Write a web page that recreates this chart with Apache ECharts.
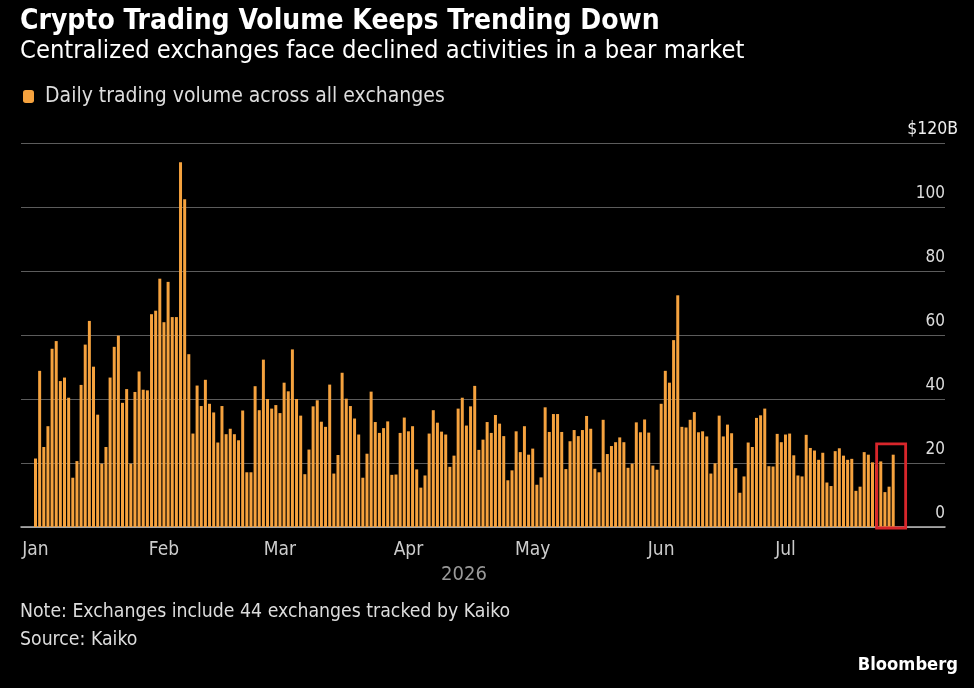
<!DOCTYPE html>
<html lang="en">
<head>
<meta charset="UTF-8">
<script src="https://cdn.jsdelivr.net/npm/echarts@6/dist/echarts.min.js"></script>
<title>Crypto Trading Volume</title>
<style>
    html, body { margin: 0; padding: 0; background: #000; }
    #main { width: 974px; height: 688px; }
</style>
</head>
<body>
<div id="main"></div>
<script type="text/javascript">
// daily trading volume, $ billions, one value per day (Jan 1 - Jul 27, 2026)
var jan = [21.4, 48.8, 25, 31.5, 55.7, 58.1, 45.6, 46.7, 40.4, 15.4, 20.6, 44.4, 57, 64.4, 50.1, 35.1,
           19.8, 25, 46.7, 56.3, 59.8, 38.8, 43.1, 19.8, 42.2, 48.6, 42.9, 42.7, 66.5, 67.6, 77.6];
var feb = [64, 76.6, 65.6, 65.6, 114, 102.4, 54, 29.2, 44.2, 37.8, 46, 38.5, 35.8, 26.4, 37.8, 29,
           30.7, 29, 27.1, 36.4, 17.1, 17.1, 44, 36.5, 52.3, 40, 37, 38.1];
var mar = [35.6, 45.1, 42.4, 55.5, 40, 34.8, 16.5, 24.2, 37.7, 39.6, 32.9, 31.3, 44.5, 16.7, 22.5, 48.2,
           40.1, 37.8, 33.9, 28.9, 15.4, 22.9, 42.3, 32.8, 29.4, 30.9, 33, 16.3, 16.4, 29.4, 34.2];
var apr = [29.9, 31.5, 18, 12.3, 16.1, 29.2, 36.5, 32.6, 29.8, 28.9, 18.8, 22.3, 37, 40.4, 31.7, 37.7,
           44.1, 24.1, 27.3, 32.8, 29.4, 35, 32.3, 28.4, 14.6, 17.7, 29.9, 23.4, 31.5, 22.6];
var may = [24.5, 13.2, 15.5, 37.4, 29.7, 35.3, 35.3, 29.7, 18.1, 26.8, 30.3, 28.4, 30.3, 34.7, 30.7, 18.2,
           17.1, 33.5, 22.8, 25.3, 26.5, 28, 26.5, 18.5, 19.8, 32.7, 29.6, 33.6, 29.5, 19.2, 17.9];
var jun = [38.5, 48.8, 45.1, 58.4, 72.4, 31.3, 31.1, 33.5, 35.9, 29.6, 29.9, 28.3, 16.7, 19.9, 34.8, 28.3,
           32, 29.3, 18.4, 10.7, 15.8, 26.4, 25, 34.1, 34.9, 37, 19, 18.9, 29.1, 26.5];
var jul = [28.9, 29.2, 22.4, 16.1, 15.8, 28.8, 24.7, 23.9, 21, 23.2, 13.9, 12.8, 23.7, 24.6, 22.3, 21,
           21.3, 11.3, 12.6, 23.4, 22.6, 20.2, 19.5, 20.5, 10.9, 12.6, 22.6];

var monthNames = ['Jan', 'Feb', 'Mar', 'Apr', 'May', 'Jun', 'Jul'];
var yMax = 120, yStep = 20;
var padBefore = 3, padAfter = 12;          // empty days either side of the data
var boxFrom = '2026-07-23', boxTo = '2026-07-30', boxTop = 26;   // red highlight box

var font = '"Liberation Sans Narrow", "DejaVu Sans Condensed", sans-serif';

var volumes = [].concat(jan, feb, mar, apr, may, jun, jul);
var days = [], values = [];
var start = Date.UTC(2026, 0, 1) - padBefore * 86400000;
var total = padBefore + volumes.length + padAfter;
for (var i = 0; i < total; i++) {
    days.push(new Date(start + i * 86400000).toISOString().slice(0, 10));
    var k = i - padBefore;
    values.push(k >= 0 && k < volumes.length ? volumes[k] : null);
}

function monthStart(idx, val) {
    return val.slice(8) === '01' && val.slice(0, 4) === '2026' && +val.slice(5, 7) <= monthNames.length;
}

var myChart = echarts.init(document.getElementById('main'));

var option = {
    backgroundColor: '#000',
    animation: false,
    textStyle: { fontFamily: font },
    title: {
        text: 'Crypto Trading Volume Keeps Trending Down',
        subtext: 'Centralized exchanges face declined activities in a bear market',
        left: 15,
        top: 3,
        itemGap: 3,
        textStyle: { color: '#fff', fontSize: 28, fontWeight: 'bold', fontFamily: font },
        subtextStyle: { color: '#fff', fontSize: 25.3, fontFamily: font }
    },
    legend: {
        left: 18,
        top: 81,
        icon: 'roundRect',
        itemWidth: 11,
        itemHeight: 13,
        itemGap: 10,
        textStyle: { color: '#ddd', fontSize: 21, padding: [0, 0, 0, 6], fontFamily: font },
        data: ['Daily trading volume across all exchanges']
    },
    grid: { left: 21, right: 29, top: 143, bottom: 161 },
    xAxis: {
        type: 'category',
        data: days,
        boundaryGap: true,
        name: '2026',
        nameLocation: 'middle',
        nameGap: 37,
        nameTextStyle: { color: '#999', fontSize: 20, padding: [0, 38, 0, 0], fontFamily: font },
        axisLine: { lineStyle: { color: '#bbb', width: 1.5 } },
        axisTick: { alignWithLabel: true, interval: monthStart, length: 7, lineStyle: { color: '#bbb', width: 1.5 } },
        axisLabel: {
            interval: monthStart,
            color: '#ccc',
            fontSize: 19,
            margin: 14,
            formatter: function (v) { return monthNames[+v.slice(5, 7) - 1]; }
        },
        splitLine: { show: false }
    },
    yAxis: {
        type: 'value',
        position: 'right',
        min: 0,
        max: yMax,
        interval: yStep,
        axisLine: { show: false },
        axisTick: { show: false },
        splitLine: { lineStyle: { color: '#5c5c5c', width: 1 } },
        axisLabel: {
            align: 'right',
            verticalAlign: 'bottom',
            margin: 13,
            padding: [0, 0, 5, 0],
            color: '#ddd',
            fontSize: 17,
            formatter: function (v) {
                return v === yMax ? '{t|$' + v + 'B}' : '{n|' + v + '}';
            },
            rich: {
                t: { color: '#eee', fontSize: 17.5, fontFamily: font },
                n: { color: '#ddd', fontSize: 17, padding: [0, 13, 0, 0], fontFamily: font }
            }
        }
    },
    series: [{
        name: 'Daily trading volume across all exchanges',
        type: 'bar',
        data: values,
        barCategoryGap: '28%',
        itemStyle: { color: '#F5A23E' }
    }, {
        // red highlight around the latest days
        type: 'custom',
        silent: true,
        clip: false,
        z: 5,
        encode: { x: [0, 1], y: 2 },
        data: [[days.indexOf(boxFrom), days.indexOf(boxTo), boxTop]],
        renderItem: function (params, api) {
            var p0 = api.coord([api.value(0), 0]);
            var p1 = api.coord([api.value(1), api.value(2)]);
            return {
                type: 'rect',
                shape: { x: p0[0], y: p1[1], width: p1[0] - p0[0], height: p0[1] - p1[1] + 1 },
                style: { fill: 'none', stroke: '#d8262b', lineWidth: 2.8 }
            };
        }
    }],
    graphic: [
        { type: 'text', left: 20, top: 602, style: { text: 'Note: Exchanges include 44 exchanges tracked by Kaiko', fill: '#ddd', fontSize: 19.3, fontFamily: font } },
        { type: 'text', left: 20, top: 630, style: { text: 'Source: Kaiko', fill: '#ddd', fontSize: 19.3, fontFamily: font } },
        { type: 'text', right: 16, top: 656, style: { text: 'Bloomberg', fill: '#fff', fontSize: 18.2, fontWeight: 'bold', fontFamily: font } }
    ]
};

myChart.setOption(option);
</script>
</body>
</html>
